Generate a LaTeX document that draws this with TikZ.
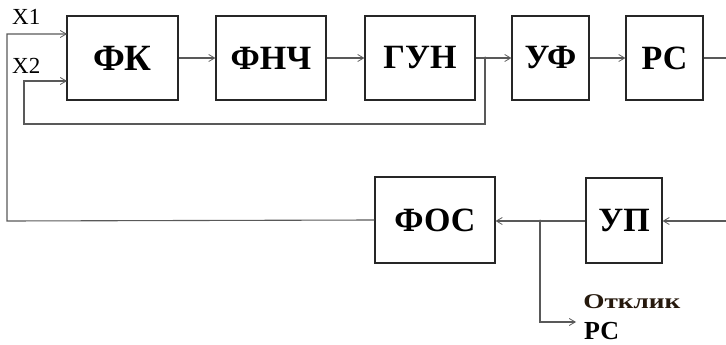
\documentclass[tikz,border=0pt]{standalone}
\usepackage{fontspec}
\setmainfont{Liberation Serif}
\usetikzlibrary{arrows.meta}
\begin{document}
\begin{tikzpicture}[x=1pt,y=-1pt,
  block/.style={draw=black!85,line width=1.1pt,fill=white,inner sep=0pt,
    font=\fontsize{34}{34}\selectfont\bfseries},
  wire/.style={draw=black!65,line width=1.1pt},
  sig/.style={wire,-{Straight Barb[length=6pt,width=7pt,line width=0.8pt]}},
  lbl/.style={inner sep=0pt,anchor=west}]
\useasboundingbox (0,0) rectangle (726,345);

% forward chain
\node[block,minimum width=111pt,minimum height=84pt,
      font=\fontsize{37}{37}\selectfont\bfseries] (fk) at (122.5,58) {ФК};
\node[block,minimum width=110pt,minimum height=84pt] (fnch) at (271,58)   {ФНЧ};
\node[block,minimum width=110pt,minimum height=84pt] (gun)  at (420,58)   {ГУН};
\node[block,minimum width=77pt,minimum height=84pt]  (uf)   at (550.5,58) {УФ};
\node[block,minimum width=77pt,minimum height=84pt]  (rs)   at (664.5,58) {РС};

% return chain
\node[block,minimum width=120pt,minimum height=86pt] (fos) at (435,220) {ФОС};
\node[block,minimum width=76pt,minimum height=85pt]  (up)  at (624,220.5) {УП};

% junctions and free ends
\coordinate (j1) at (485,58);
\coordinate (j2) at (540,221);
\coordinate (outR) at (726,58);
\coordinate (inR)  at (726,221);
\coordinate (x1) at (67,34);
\coordinate (x2) at (67,81);
\coordinate (resp) at (576,322);
\fill[black!75] (j1) circle (1.5pt) (j2) circle (1.5pt);

% labels of the inputs
\node[lbl,font=\fontsize{23}{23}\selectfont] (lx1) at (12,17) {X1};
\node[lbl,font=\fontsize{23}{23}\selectfont] (lx2) at (12,66) {X2};

% forward connections
\draw[sig] (fk) -- (fnch);
\draw[sig] (fnch) -- (gun);
\draw[wire] (gun) -- (j1);
\draw[sig] (j1) -- (uf);
\draw[sig] (uf) -- (rs);
\draw[wire] (rs) -- (outR);

% loops into the phase comparator
\draw[sig] (fos.west) -- (7,221) -- (7,34) -- (x1);
\draw[sig] (j1) -- (485,124) -- (24,124) -- (24,81) -- (x2);

% return path
\draw[sig] (inR) -- (up.east |- inR);
\draw[wire] (up.west |- j2) -- (j2);
\draw[sig] (j2) -- (fos.east |- j2);
\draw[sig] (j2) -- (540,322) -- (resp);

% response output label
\node[lbl,font=\fontsize{21}{21}\selectfont\bfseries,xscale=1.3,text=black!80!brown]
  (otk) at (583,302) {Отклик};
\node[lbl,font=\fontsize{26}{26}\selectfont\bfseries] (rsl) at (584,331) {РС};
\end{tikzpicture}
\end{document}
